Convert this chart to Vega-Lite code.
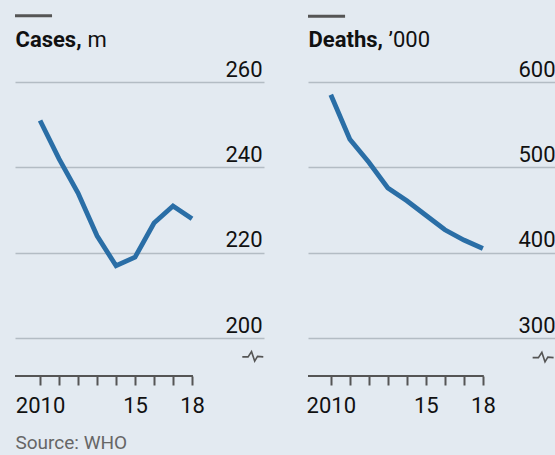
{
  "$schema": "https://vega.github.io/schema/vega-lite/v6.json",
  "background": "#e3eaf1",
  "padding": {"left": 13, "top": 14, "right": 5, "bottom": 12},
  "config": {
    "view": {"stroke": null},
    "font": "Roboto"
  },
  "datasets": {
    "cases": [
      {"year": 2010, "value": 251}, {"year": 2011, "value": 242}, {"year": 2012, "value": 234},
      {"year": 2013, "value": 224}, {"year": 2014, "value": 217}, {"year": 2015, "value": 219},
      {"year": 2016, "value": 227}, {"year": 2017, "value": 231}, {"year": 2018, "value": 228}
    ],
    "deaths": [
      {"year": 2010, "value": 585}, {"year": 2011, "value": 533}, {"year": 2012, "value": 506},
      {"year": 2013, "value": 476}, {"year": 2014, "value": 461}, {"year": 2015, "value": 444},
      {"year": 2016, "value": 427}, {"year": 2017, "value": 415}, {"year": 2018, "value": 405}
    ],
    "one": [{}]
  },
  "spacing": 44,
  "bounds": "flush",
  "hconcat": [
    {
      "width": 249,
      "height": 294,
      "resolve": {"axis": {"y": "independent"}},
      "layer": [
        {
          "data": {"name": "cases"},
          "mark": {"type": "line", "color": "#2a6ea6", "strokeWidth": 4.8, "strokeCap": "butt"},
          "encoding": {
            "x": {"field": "year", "type": "quantitative",
              "scale": {"domain": [2008.68, 2021.79], "nice": false, "zero": false},
              "axis": {"values": [2010, 2011, 2012, 2013, 2014, 2015, 2016, 2017, 2018],
                "labelExpr": "datum.value == 2010 ? '2010' : datum.value == 2015 ? '15' : datum.value == 2018 ? '18' : ''",
                "domain": false, "grid": false, "ticks": true, "tickSize": 9, "tickWidth": 2, "tickColor": "#555",
                "labelFontSize": 22, "labelColor": "#111", "labelPadding": 10, "labelFlush": false, "labelOverlap": false,
                "title": "Source: WHO", "titleX": 0, "titleY": 72, "titleAlign": "left", "titleAnchor": "start",
                "titleBaseline": "alphabetic", "titleFontSize": 19, "titleFontWeight": "normal", "titleColor": "#666"}},
            "y": {"field": "value", "type": "quantitative",
              "scale": {"domain": [191.2, 260], "nice": false, "zero": false},
              "axis": {"orient": "right", "values": [200, 220, 240, 260], "grid": true, "gridColor": "#b3bcc4", "gridWidth": 1.5,
                "domain": false, "ticks": false, "labelAlign": "right", "labelBaseline": "alphabetic",
                "labelPadding": -2, "labelOffset": -6, "labelFontSize": 22, "labelColor": "#111",
                "title": "m", "titleAngle": 0, "titleX": -177, "titleY": -36, "titleAlign": "left",
                "titleBaseline": "alphabetic", "titleFontSize": 22, "titleFontWeight": "normal", "titleColor": "#111"}}
          }
        },
        {
          "data": {"name": "one"},
          "mark": {"type": "rule", "color": "#555", "strokeWidth": 2},
          "encoding": {
            "x": {"datum": 2008.68, "type": "quantitative",
              "axis": {"values": [2010, 2011, 2012, 2013, 2014, 2015, 2016, 2017, 2018],
                "labelExpr": "datum.value == 2010 ? '2010' : datum.value == 2015 ? '15' : datum.value == 2018 ? '18' : ''",
                "domain": false, "grid": false, "ticks": true, "tickSize": 9, "tickWidth": 2, "tickColor": "#555",
                "labelFontSize": 22, "labelColor": "#111", "labelPadding": 10, "labelFlush": false, "labelOverlap": false,
                "title": "Source: WHO", "titleX": 0, "titleY": 72, "titleAlign": "left", "titleAnchor": "start",
                "titleBaseline": "alphabetic", "titleFontSize": 19, "titleFontWeight": "normal", "titleColor": "#666"}},
            "x2": {"datum": 2018.05},
            "y": {"datum": 191.2, "axis": {"orient": "left", "domain": false, "ticks": false, "labels": false, "grid": false,
              "title": "Cases,", "titleAngle": 0, "titleX": 0, "titleY": -36, "titleAlign": "left",
              "titleBaseline": "alphabetic", "titleFontSize": 22, "titleFontWeight": "bold", "titleColor": "#111"}}}
        },
        {
          "data": {"name": "one"},
          "mark": {"type": "rule", "color": "#555", "strokeWidth": 3},
          "encoding": {
            "x": {"datum": 2008.68, "type": "quantitative",
              "axis": {"values": [2010, 2011, 2012, 2013, 2014, 2015, 2016, 2017, 2018],
                "labelExpr": "datum.value == 2010 ? '2010' : datum.value == 2015 ? '15' : datum.value == 2018 ? '18' : ''",
                "domain": false, "grid": false, "ticks": true, "tickSize": 9, "tickWidth": 2, "tickColor": "#555",
                "labelFontSize": 22, "labelColor": "#111", "labelPadding": 10, "labelFlush": false, "labelOverlap": false,
                "title": "Source: WHO", "titleX": 0, "titleY": 72, "titleAlign": "left", "titleAnchor": "start",
                "titleBaseline": "alphabetic", "titleFontSize": 19, "titleFontWeight": "normal", "titleColor": "#666"}},
            "x2": {"datum": 2010.63}, "y": {"datum": 275.5, "axis": null}}
        },
        {
          "data": {"name": "one"},
          "mark": {"type": "point", "shape": "M-1,0.05L-0.45,0.05L-0.12,-0.45L0.18,0.45L0.45,0L1,0.05", "size": 440, "filled": false, "stroke": "#555", "strokeWidth": 1.6, "opacity": 1},
          "encoding": {
            "x": {"datum": 2021.2, "type": "quantitative",
              "axis": {"values": [2010, 2011, 2012, 2013, 2014, 2015, 2016, 2017, 2018],
                "labelExpr": "datum.value == 2010 ? '2010' : datum.value == 2015 ? '15' : datum.value == 2018 ? '18' : ''",
                "domain": false, "grid": false, "ticks": true, "tickSize": 9, "tickWidth": 2, "tickColor": "#555",
                "labelFontSize": 22, "labelColor": "#111", "labelPadding": 10, "labelFlush": false, "labelOverlap": false,
                "title": "Source: WHO", "titleX": 0, "titleY": 72, "titleAlign": "left", "titleAnchor": "start",
                "titleBaseline": "alphabetic", "titleFontSize": 19, "titleFontWeight": "normal", "titleColor": "#666"}},
            "y": {"datum": 195.8, "axis": null}}
        }
      ]
    },
    {
      "width": 249,
      "height": 294,
      "resolve": {"axis": {"y": "independent"}},
      "layer": [
        {
          "data": {"name": "deaths"},
          "mark": {"type": "line", "color": "#2a6ea6", "strokeWidth": 4.8, "strokeCap": "butt"},
          "encoding": {
            "x": {"field": "year", "type": "quantitative",
              "scale": {"domain": [2008.8, 2021.9], "nice": false, "zero": false},
              "axis": {"values": [2010, 2011, 2012, 2013, 2014, 2015, 2016, 2017, 2018],
                "labelExpr": "datum.value == 2010 ? '2010' : datum.value == 2015 ? '15' : datum.value == 2018 ? '18' : ''",
                "domain": false, "grid": false, "ticks": true, "tickSize": 9, "tickWidth": 2, "tickColor": "#555",
                "labelFontSize": 22, "labelColor": "#111", "labelPadding": 10, "labelFlush": false, "labelOverlap": false,
                "title": null}},
            "y": {"field": "value", "type": "quantitative",
              "scale": {"domain": [255.8, 600], "nice": false, "zero": false},
              "axis": {"orient": "right", "values": [300, 400, 500, 600], "grid": true, "gridColor": "#b3bcc4", "gridWidth": 1.5,
                "domain": false, "ticks": false, "labelAlign": "right", "labelBaseline": "alphabetic",
                "labelPadding": -2, "labelOffset": -6, "labelFontSize": 22, "labelColor": "#111",
                "title": "’000", "titleAngle": 0, "titleX": -169, "titleY": -36, "titleAlign": "left",
                "titleBaseline": "alphabetic", "titleFontSize": 22, "titleFontWeight": "normal", "titleColor": "#111"}}
          }
        },
        {
          "data": {"name": "one"},
          "mark": {"type": "rule", "color": "#555", "strokeWidth": 2},
          "encoding": {
            "x": {"datum": 2008.8, "type": "quantitative",
              "axis": {"values": [2010, 2011, 2012, 2013, 2014, 2015, 2016, 2017, 2018],
                "labelExpr": "datum.value == 2010 ? '2010' : datum.value == 2015 ? '15' : datum.value == 2018 ? '18' : ''",
                "domain": false, "grid": false, "ticks": true, "tickSize": 9, "tickWidth": 2, "tickColor": "#555",
                "labelFontSize": 22, "labelColor": "#111", "labelPadding": 10, "labelFlush": false, "labelOverlap": false,
                "title": null}},
            "x2": {"datum": 2018.05},
            "y": {"datum": 255.8, "axis": {"orient": "left", "domain": false, "ticks": false, "labels": false, "grid": false,
              "title": "Deaths,", "titleAngle": 0, "titleX": 0, "titleY": -36, "titleAlign": "left",
              "titleBaseline": "alphabetic", "titleFontSize": 22, "titleFontWeight": "bold", "titleColor": "#111"}}}
        },
        {
          "data": {"name": "one"},
          "mark": {"type": "rule", "color": "#555", "strokeWidth": 3},
          "encoding": {
            "x": {"datum": 2008.8, "type": "quantitative",
              "axis": {"values": [2010, 2011, 2012, 2013, 2014, 2015, 2016, 2017, 2018],
                "labelExpr": "datum.value == 2010 ? '2010' : datum.value == 2015 ? '15' : datum.value == 2018 ? '18' : ''",
                "domain": false, "grid": false, "ticks": true, "tickSize": 9, "tickWidth": 2, "tickColor": "#555",
                "labelFontSize": 22, "labelColor": "#111", "labelPadding": 10, "labelFlush": false, "labelOverlap": false,
                "title": null}},
            "x2": {"datum": 2010.75}, "y": {"datum": 677, "axis": null}}
        },
        {
          "data": {"name": "one"},
          "mark": {"type": "point", "shape": "M-1,0.05L-0.45,0.05L-0.12,-0.45L0.18,0.45L0.45,0L1,0.05", "size": 440, "filled": false, "stroke": "#555", "strokeWidth": 1.6, "opacity": 1},
          "encoding": {
            "x": {"datum": 2021.17, "type": "quantitative",
              "axis": {"values": [2010, 2011, 2012, 2013, 2014, 2015, 2016, 2017, 2018],
                "labelExpr": "datum.value == 2010 ? '2010' : datum.value == 2015 ? '15' : datum.value == 2018 ? '18' : ''",
                "domain": false, "grid": false, "ticks": true, "tickSize": 9, "tickWidth": 2, "tickColor": "#555",
                "labelFontSize": 22, "labelColor": "#111", "labelPadding": 10, "labelFlush": false, "labelOverlap": false,
                "title": null}},
            "y": {"datum": 277.9, "axis": null}}
        }
      ]
    }
  ]
}
